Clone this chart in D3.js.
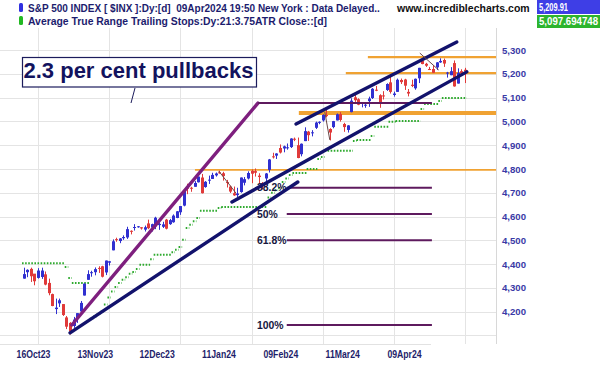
<!DOCTYPE html>
<html><head><meta charset="utf-8">
<script src="https://cdn.jsdelivr.net/npm/d3@7"></script>
<style>
body{margin:0;background:#fff;}
svg{display:block;font-family:"Liberation Sans",Arial,sans-serif;}
</style>
</head><body>
<svg id="chart" width="602" height="365"></svg>
<script>
// ---------- DATA ----------
const dates = [
"2023-10-10","2023-10-11","2023-10-12","2023-10-13","2023-10-16","2023-10-17","2023-10-18","2023-10-19","2023-10-20","2023-10-23","2023-10-24","2023-10-25","2023-10-26","2023-10-27","2023-10-30","2023-10-31",
"2023-11-01","2023-11-02","2023-11-03","2023-11-06","2023-11-07","2023-11-08","2023-11-09","2023-11-10","2023-11-13","2023-11-14","2023-11-15","2023-11-16","2023-11-17","2023-11-20","2023-11-21","2023-11-22","2023-11-24","2023-11-27","2023-11-28","2023-11-29","2023-11-30",
"2023-12-01","2023-12-04","2023-12-05","2023-12-06","2023-12-07","2023-12-08","2023-12-11","2023-12-12","2023-12-13","2023-12-14","2023-12-15","2023-12-18","2023-12-19","2023-12-20","2023-12-21","2023-12-22","2023-12-26","2023-12-27","2023-12-28","2023-12-29",
"2024-01-02","2024-01-03","2024-01-04","2024-01-05","2024-01-08","2024-01-09","2024-01-10","2024-01-11","2024-01-12","2024-01-16","2024-01-17","2024-01-18","2024-01-19","2024-01-22","2024-01-23","2024-01-24","2024-01-25","2024-01-26","2024-01-29","2024-01-30","2024-01-31",
"2024-02-01","2024-02-02","2024-02-05","2024-02-06","2024-02-07","2024-02-08","2024-02-09","2024-02-12","2024-02-13","2024-02-14","2024-02-15","2024-02-16","2024-02-20","2024-02-21","2024-02-22","2024-02-23","2024-02-26","2024-02-27","2024-02-28","2024-02-29",
"2024-03-01","2024-03-04","2024-03-05","2024-03-06","2024-03-07","2024-03-08","2024-03-11","2024-03-12","2024-03-13","2024-03-14","2024-03-15","2024-03-18","2024-03-19","2024-03-20","2024-03-21","2024-03-22","2024-03-25","2024-03-26","2024-03-27","2024-03-28",
"2024-04-01","2024-04-02","2024-04-03","2024-04-04","2024-04-05","2024-04-08","2024-04-09"];

const open = [
4339,4366,4380,4360,4342,4346,4357,4321,4274,4211,4235,4232,4176,4153,4140,4171,
4201,4268,4334,4364,4366,4384,4391,4365,4406,4458,4505,4497,4509,4512,4540,4554,4555,4555,4545,4571,4554,
4559,4564,4557,4587,4568,4576,4594,4618,4646,4721,4721,4725,4744,4764,4724,4754,4758,4773,4786,4782,
4745,4726,4698,4690,4703,4742,4760,4792,4791,4772,4741,4760,4796,4853,4856,4888,4886,4888,4892,4927,4900,
4862,4917,4957,4951,4973,4995,5004,5027,4968,4976,5004,5031,4989,4964,5039,5101,5093,5074,5067,5085,
5098,5133,5110,5109,5132,5164,5111,5124,5174,5176,5124,5154,5139,5181,5254,5242,5220,5220,5227,5248,
5258,5203,5194,5245,5159,5211,5217];

const high = [
4385,4378,4385,4357,4383,4385,4369,4339,4276,4255,4255,4232,4182,4156,4178,4194,
4245,4319,4374,4372,4386,4391,4393,4415,4412,4504,4511,4509,4521,4557,4542,4568,4560,4555,4562,4587,4570,
4599,4575,4578,4590,4590,4609,4623,4644,4709,4738,4725,4749,4768,4779,4749,4772,4784,4785,4793,4788,
4754,4730,4726,4721,4764,4766,4790,4798,4802,4782,4745,4783,4842,4868,4866,4903,4898,4907,4929,4932,4932,
4907,4975,4960,4963,4999,5000,5030,5049,4971,5002,5033,5039,4994,4984,5097,5111,5097,5080,5077,5104,
5140,5149,5114,5127,5160,5190,5125,5180,5180,5179,5136,5175,5180,5225,5262,5246,5229,5236,5249,5265,
5264,5208,5228,5256,5223,5219,5225];

const low = [
4339,4345,4325,4311,4339,4338,4311,4269,4223,4190,4220,4182,4127,4104,4132,4153,
4189,4268,4334,4347,4353,4363,4344,4354,4394,4458,4494,4488,4502,4506,4525,4541,4553,4545,4537,4547,4537,
4547,4544,4552,4546,4565,4574,4593,4607,4643,4694,4704,4725,4743,4697,4721,4737,4758,4768,4780,4751,
4722,4699,4687,4682,4700,4731,4756,4740,4768,4740,4714,4748,4785,4844,4842,4865,4870,4881,4888,4917,4845,
4853,4917,4918,4937,4968,4988,4999,5017,4920,4971,5004,4999,4956,4953,5038,5082,5068,5059,5057,5061,
5094,5127,5057,5092,5128,5117,5104,5124,5157,5132,5105,5144,5133,5161,5240,5229,5216,5203,5216,5246,
5229,5184,5194,5146,5159,5197,5161];

const close = [
4358,4376,4349,4328,4373,4373,4314,4278,4224,4217,4248,4186,4137,4117,4167,4194,
4237,4318,4358,4366,4379,4383,4347,4415,4412,4496,4503,4508,4514,4547,4538,4556,4559,4550,4555,4551,4568,
4595,4569,4567,4549,4585,4604,4622,4644,4707,4719,4719,4741,4768,4698,4746,4755,4775,4781,4783,4770,
4743,4705,4689,4697,4764,4757,4783,4780,4784,4766,4739,4781,4840,4851,4865,4869,4895,4891,4928,4925,4846,
4906,4959,4942,4954,4995,4998,5027,5022,4953,5001,5030,5006,4976,4983,5087,5089,5070,5078,5070,5096,
5137,5131,5079,5105,5157,5124,5117,5175,5165,5150,5117,5149,5179,5225,5241,5234,5218,5204,5248,5254,
5243,5205,5211,5147,5204,5202,5210];

// ATR trailing stop (21 day, 3.75 ATR), one value per trading day
const atrStop = [
4404,4404,4404,4404,4404,4404,4404,4404,4404,4404,4404,4404,4388,4342,4321,4321,4321,4321,4321,
4170,4180,4190,4200,4230,4260,4285,4304,4321,4334,4345,4360,4367,4380,4397,4397,4397,4420,4439,
4439,4439,4439,4439,4450,4460,4472,4502,4552,4565,4580,4594,4624,4624,4624,4624,4624,4636,
4640,4640,4640,4640,4640,4640,4640,4640,4640,4640,4640,4640,4640,
4680,4700,4710,4720,4745,4760,4775,4783,4783,4783,4783,4800,4800,4800,4842,4850,
4876,4876,4876,4876,4876,4876,4876,4876,4918,4922,4922,4922,4922,4939,4977,4977,4977,4977,4998,4998,
5002,5002,5002,5002,5002,5002,5002,5052,5073,5073,5073,5073,5086,5098,5098,5098,5098,5098,5098,5098];

const yTicks = [4200,4300,4400,4500,4600,4700,4800,4900,5000,5100,5200,5300];
const yGrid = [4100,4200,4300,4400,4500,4600,4700,4800,4900,5000,5100,5200,5300];
const xTickDates = ["2023-10-16","2023-11-13","2023-12-12","2024-01-11","2024-02-09","2024-03-11","2024-04-09"];
const xTickLabels = ["16Oct23","13Nov23","12Dec23","11Jan24","09Feb24","11Mar24","09Apr24"];

// drawn annotations, in (trading-day index, price)
const measureLine = [[13.5,4144],[65.8,5077]];            // purple swing line
const measureTopEnd = 114.7;                              // purple horizontal end index
const fibRatios = [0.382,0.5,0.618,1];
const fibLabels = ["38.2%","50%","61.8%","100%"];
const fibStartIdx = 73.9, fibEndIdx = 114.7;
const channelLines = [
  [[13,4111],[77,4745]],
  [[58.5,4661],[124.5,5208]],
  [[76.5,4989],[121.7,5334]]
];
const orangeLevels = [4796,5035,5203,5270];
const orangeStartIdx = [48.1,77.3,90.5,96.7];
const pullbackLines = [
  [[54.8,4791],[59.6,4699]],
  [[84.6,5039],[86.0,4922]],
  [[111.3,5287],[116.6,5216]]
];
const calloutText = "2.3 per cent pullbacks";
const legend1 = "S&P 500 INDEX [ $INX ]:Dy:[d]  09Apr2024 19:50 New York : Data Delayed..";
const legend2 = "Average True Range Trailing Stops:Dy:21:3.75ATR Close::[d]";
const lastClose = "5,209.91";
const lastStop = "5,097.694748";

// ---------- CHART ----------
const svg = d3.select("#chart");
const W = 602, H = 365;
const plotRight = 496, plotTop = 28, plotBottom = 344;
const x = d3.scaleLinear().domain([0, dates.length - 1]).range([23.8, 465]);
const y = d3.scaleLinear().domain([4200, 5300]).range([311.7, 50]);

svg.append("rect").attr("width", W).attr("height", H).attr("fill", "#fff");

// grid
const grid = svg.append("g").attr("stroke", "#e4e4e4").attr("stroke-width", 1);
yGrid.forEach(v => {
  const yy = Math.round(y(v)) + 0.5;
  grid.append("line").attr("x1", 0).attr("x2", plotRight).attr("y1", yy).attr("y2", yy);
});
xTickDates.forEach(d => {
  const xx = Math.round(x(dates.indexOf(d))) + 0.5;
  grid.append("line").attr("x1", xx).attr("x2", xx).attr("y1", plotTop).attr("y2", plotBottom);
});
grid.append("line").attr("x1", plotRight + 0.5).attr("x2", plotRight + 0.5).attr("y1", plotTop).attr("y2", plotBottom).attr("stroke", "#d8d8d8");

// orange horizontal levels
const orangeW = [1.6, 4, 2.4, 2.4];
orangeLevels.forEach((v, i) => {
  svg.append("line").attr("x1", x(orangeStartIdx[i])).attr("x2", plotRight)
    .attr("y1", y(v)).attr("y2", y(v))
    .attr("stroke", "#f0a232").attr("stroke-width", orangeW[i]);
});

// ATR trailing stop (dotted green)
const half = (x(1) - x(0)) / 2;
let stopPath = "";
let runStart = 0;
for (let i = 1; i <= atrStop.length; i++) {
  if (i === atrStop.length || atrStop[i] !== atrStop[runStart]) {
    stopPath += `M${x(runStart) - half},${y(atrStop[runStart])}H${x(i - 1) + half}`;
    runStart = i;
  }
}
svg.append("path").attr("d", stopPath).attr("fill", "none")
  .attr("stroke", "#2eaa2e").attr("stroke-width", 2).attr("stroke-dasharray", "1.6 1.5");

// candles
const candles = svg.append("g");
dates.forEach((d, i) => {
  const up = close[i] >= open[i];
  const col = up ? "#3030d0" : "#e03a3a";
  const cx = Math.round(x(i));
  candles.append("line").attr("x1", cx + 0.5).attr("x2", cx + 0.5)
    .attr("y1", y(high[i])).attr("y2", y(low[i])).attr("stroke", col).attr("stroke-width", 1);
  const y1 = y(Math.max(open[i], close[i])), y2 = y(Math.min(open[i], close[i]));
  candles.append("rect").attr("x", cx - 1).attr("width", 3)
    .attr("y", y1).attr("height", Math.max(1, y2 - y1)).attr("fill", col);
});

// purple measuring line + top horizontal
const topPrice = measureLine[1][1], basePrice = measureLine[0][1];
svg.append("line")
  .attr("x1", x(measureLine[0][0])).attr("y1", y(measureLine[0][1]))
  .attr("x2", x(measureLine[1][0])).attr("y2", y(measureLine[1][1]))
  .attr("stroke", "#7e1f7e").attr("stroke-width", 3.4).attr("stroke-linecap", "round");
svg.append("line")
  .attr("x1", x(measureLine[1][0])).attr("y1", y(topPrice))
  .attr("x2", x(measureTopEnd)).attr("y2", y(topPrice))
  .attr("stroke", "#5e1a5e").attr("stroke-width", 2);

// fib retracements
fibRatios.forEach((r, i) => {
  const p = topPrice - r * (topPrice - basePrice);
  svg.append("line").attr("x1", x(fibStartIdx)).attr("x2", x(fibEndIdx))
    .attr("y1", y(p)).attr("y2", y(p)).attr("stroke", "#5e1a5e").attr("stroke-width", 2);
  svg.append("text").attr("x", 257).attr("y", y(p) + 3.6)
    .attr("font-size", "10.4px").attr("font-weight", "bold").attr("fill", "#16163e")
    .text(fibLabels[i]);
});

// channel lines (navy)
channelLines.forEach(l => {
  svg.append("line").attr("x1", x(l[0][0])).attr("y1", y(l[0][1]))
    .attr("x2", x(l[1][0])).attr("y2", y(l[1][1]))
    .attr("stroke", "#12126c").attr("stroke-width", 3.4).attr("stroke-linecap", "round");
});

// pullback measuring lines
pullbackLines.forEach(l => {
  svg.append("line").attr("x1", x(l[0][0])).attr("y1", y(l[0][1]))
    .attr("x2", x(l[1][0])).attr("y2", y(l[1][1]))
    .attr("stroke", "#6a4646").attr("stroke-width", 1);
});

// callout box
svg.append("line").attr("x1", 135).attr("y1", 88).attr("x2", 131).attr("y2", 103)
  .attr("stroke", "#1c1c5c").attr("stroke-width", 1);
svg.append("rect").attr("x", 22.5).attr("y", 57.5).attr("width", 234).attr("height", 29.5)
  .attr("fill", "#fff").attr("stroke", "#1c1c5c").attr("stroke-width", 1.2);
const ct = svg.append("text").attr("x", 23.5).attr("y", 78.3)
  .attr("font-size", "22px").attr("font-weight", "bold").attr("fill", "#13135e")
  .text(calloutText);
fitText(ct, 229);

// right y axis
const yAxis = svg.append("g").attr("transform", `translate(${plotRight},0)`)
  .call(d3.axisRight(y).tickValues(yTicks).tickFormat(d3.format(",")).tickSize(0).tickPadding(6));
yAxis.select(".domain").remove();
yAxis.selectAll("text").attr("font-family", "Liberation Sans, Arial, sans-serif")
  .attr("font-size", "9.6px").attr("font-weight", "bold").attr("fill", "#3a3aa6");

// bottom x axis (strip drawn horizontally compressed as in the source)
const xAxis = svg.append("g").attr("transform", `translate(0,${plotBottom}) scale(0.869,1)`)
  .call(d3.axisBottom(x).tickValues(xTickDates.map(d => dates.indexOf(d)))
    .tickFormat((d, i) => xTickLabels[i]).tickSize(0).tickPadding(7));
xAxis.select(".domain").remove();
xAxis.append("line").attr("x1", 0).attr("x2", plotRight).attr("y1", 0.5).attr("y2", 0.5).attr("stroke", "#e0e0e0");
xAxis.selectAll("text").attr("font-family", "Liberation Sans, Arial, sans-serif")
  .attr("font-size", "10px").attr("font-weight", "bold").attr("fill", "#1e1e6a");

// legend
svg.append("rect").attr("x", 19).attr("y", 3).attr("width", 4).attr("height", 9).attr("rx", 1.5).attr("fill", "#3030e0");
svg.append("rect").attr("x", 19).attr("y", 16).attr("width", 4).attr("height", 9).attr("rx", 1.5).attr("fill", "#22b822");
fitText(svg.append("text").attr("x", 28).attr("y", 12).attr("font-size", "10px").attr("font-weight", "bold")
  .attr("fill", "#1c1c6e").style("white-space", "pre").text(legend1), 351);
fitText(svg.append("text").attr("x", 28).attr("y", 25).attr("font-size", "10px").attr("font-weight", "bold")
  .attr("fill", "#1c1c6e").text(legend2), 299);
fitText(svg.append("text").attr("x", 397).attr("y", 12).attr("font-size", "10.5px").attr("font-weight", "bold")
  .attr("fill", "#111").text("www.incrediblecharts.com"), 135);

svg.append("rect").attr("x", 537).attr("y", 0).attr("width", 63).attr("height", 14).attr("fill", "#3e3ee6");
svg.append("rect").attr("x", 537).attr("y", 15).attr("width", 63).attr("height", 13).attr("fill", "#2db42d");
svg.append("text").attr("x", 539).attr("y", 11).attr("font-size", "10px").attr("font-weight", "bold")
  .attr("fill", "#fff").attr("textLength", 29).attr("lengthAdjust", "spacingAndGlyphs").text(lastClose);
svg.append("text").attr("x", 539).attr("y", 25).attr("font-size", "10px").attr("font-weight", "bold")
  .attr("fill", "#fff").attr("textLength", 59).attr("lengthAdjust", "spacingAndGlyphs").text(lastStop);

function fitText(sel, target) {
  const w = sel.node().getComputedTextLength();
  if (Math.abs(w - target) / target > 0.03) {
    sel.attr("textLength", target).attr("lengthAdjust", "spacingAndGlyphs");
  }
  return sel;
}
</script>
</body></html>
